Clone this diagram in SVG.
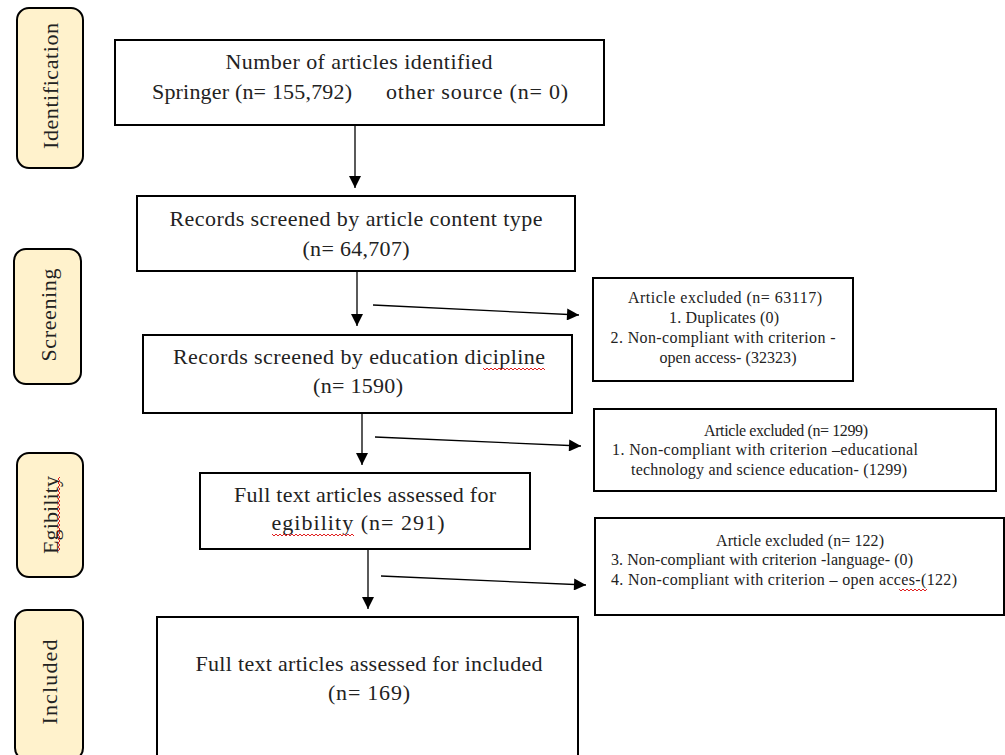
<svg xmlns="http://www.w3.org/2000/svg" width="1005" height="755" viewBox="0 0 1005 755">
<defs>
<style>
.side{fill:#FFF2CC;stroke:#000;stroke-width:2}
.box{fill:#fff;stroke:#000;stroke-width:2}
.t{font-family:"Liberation Serif","DejaVu Serif",serif;font-size:22px;fill:#222;text-anchor:middle}
.s{font-family:"Liberation Serif","DejaVu Serif",serif;font-size:16px;fill:#222}
.c{text-anchor:middle}
.lbl{font-family:"Liberation Serif","DejaVu Serif",serif;font-size:22px;fill:#222;text-anchor:middle;dominant-baseline:central}
.ln{stroke:#000;stroke-width:1.3;fill:none}
.sq{stroke:#e02020;stroke-width:1;fill:none}
</style>
<marker id="ah" viewBox="0 0 10 10" refX="10" refY="5" markerWidth="13" markerHeight="12" markerUnits="userSpaceOnUse" orient="auto">
<path d="M0,0 L10,5 L0,10 z" fill="#000"/>
</marker>
</defs>
<rect width="1005" height="755" fill="#fff"/>

<g id="side-identification">
<rect class="side" x="17" y="8" width="66" height="160" rx="12"/>
<text class="lbl" transform="translate(50,86) rotate(-90)" textLength="126" lengthAdjust="spacing">Identification</text>
</g>
<g id="side-screening">
<rect class="side" x="14" y="249" width="67" height="135" rx="12"/>
<text class="lbl" transform="translate(48,315) rotate(-90)" textLength="93" lengthAdjust="spacing">Screening</text>
</g>
<g id="side-egibility">
<rect class="side" x="17" y="453" width="66" height="124" rx="12"/>
<text class="lbl" transform="translate(50,515) rotate(-90)" textLength="78" lengthAdjust="spacing">Egibility</text>
<path class="sq" d="M60,477 l-2,2 l2,2 l-2,2 l2,2 l-2,2 l2,2 l-2,2 l2,2 l-2,2 l2,2 l-2,2 l2,2 l-2,2 l2,2 l-2,2 l2,2 l-2,2 l2,2 l-2,2 l2,2 l-2,2 l2,2 l-2,2 l2,2 l-2,2 l2,2 l-2,2 l2,2 l-2,2 l2,2 l-2,2 l2,2 l-2,2 l2,2 l-2,2 l2,2 l-2,2"/>
</g>
<g id="side-included">
<rect class="side" x="15" y="610" width="68" height="150" rx="12"/>
<text class="lbl" transform="translate(49,682) rotate(-90)" textLength="85" lengthAdjust="spacing">Included</text>
</g>

<g id="n1">
<rect class="box" x="115" y="40" width="489" height="85"/>
<text class="t" x="359" y="69" textLength="267" lengthAdjust="spacing">Number of articles identified</text>
<text class="t" x="252" y="99" textLength="200" lengthAdjust="spacing">Springer (n= 155,792)</text>
<text class="t" x="477" y="99" textLength="182" lengthAdjust="spacing">other source (n= 0)</text>
</g>
<g id="n2">
<rect class="box" x="137" y="196" width="438" height="75"/>
<text class="t" x="356" y="226" textLength="373" lengthAdjust="spacing">Records screened by article content type</text>
<text class="t" x="356" y="256" textLength="107" lengthAdjust="spacing">(n= 64,707)</text>
</g>
<g id="n3">
<rect class="box" x="143" y="335" width="429" height="78"/>
<text class="t" x="359" y="364" textLength="372" lengthAdjust="spacing">Records screened by education dicipline</text>
<text class="t" x="358" y="393" textLength="90" lengthAdjust="spacing">(n= 1590)</text>
<path class="sq" d="M483,368 l2,2 l2,-2 l2,2 l2,-2 l2,2 l2,-2 l2,2 l2,-2 l2,2 l2,-2 l2,2 l2,-2 l2,2 l2,-2 l2,2 l2,-2 l2,2 l2,-2 l2,2 l2,-2 l2,2 l2,-2 l2,2 l2,-2 l2,2 l2,-2 l2,2 l2,-2 l2,2 l2,-2 l2,2"/>
</g>
<g id="n4">
<rect class="box" x="200" y="473" width="330" height="76"/>
<text class="t" x="365" y="502" textLength="262" lengthAdjust="spacing">Full text articles assessed for</text>
<text class="t" x="358" y="530" textLength="173" lengthAdjust="spacing">egibility (n= 291)</text>
<path class="sq" d="M272,534 l2,2 l2,-2 l2,2 l2,-2 l2,2 l2,-2 l2,2 l2,-2 l2,2 l2,-2 l2,2 l2,-2 l2,2 l2,-2 l2,2 l2,-2 l2,2 l2,-2 l2,2 l2,-2 l2,2 l2,-2 l2,2 l2,-2 l2,2 l2,-2 l2,2 l2,-2 l2,2 l2,-2 l2,2 l2,-2 l2,2 l2,-2 l2,2 l2,-2 l2,2 l2,-2 l2,2 l2,-2 l2,2"/>
</g>
<g id="n5">
<rect class="box" x="157" y="617" width="421" height="145"/>
<text class="t" x="369" y="671" textLength="347" lengthAdjust="spacing">Full text articles assessed for included</text>
<text class="t" x="369" y="700" textLength="82" lengthAdjust="spacing">(n= 169)</text>
</g>

<g id="ex1">
<rect class="box" x="593" y="278" width="260" height="103"/>
<text class="s c" x="725" y="303" textLength="194" lengthAdjust="spacing">Article excluded (n= 63117)</text>
<text class="s c" x="724" y="323" textLength="110" lengthAdjust="spacing">1. Duplicates (0)</text>
<text class="s c" x="723" y="343" textLength="225" lengthAdjust="spacing">2. Non-compliant with criterion -</text>
<text class="s c" x="728" y="363" textLength="137" lengthAdjust="spacing">open access- (32323)</text>
</g>
<g id="ex2">
<rect class="box" x="594" y="409" width="402" height="82"/>
<text class="s c" x="786" y="436" textLength="164" lengthAdjust="spacing">Article excluded (n= 1299)</text>
<text class="s" x="612" y="455" textLength="306" lengthAdjust="spacing">1.  Non-compliant with criterion –educational</text>
<text class="s" x="631" y="475" textLength="276" lengthAdjust="spacing">technology and science education- (1299)</text>
</g>
<g id="ex3">
<rect class="box" x="595" y="518" width="409" height="97"/>
<text class="s c" x="800" y="546" textLength="168" lengthAdjust="spacing">Article excluded (n= 122)</text>
<text class="s" x="611" y="565" textLength="302" lengthAdjust="spacing">3. Non-compliant with criterion -language- (0)</text>
<text class="s" x="611" y="585" textLength="346" lengthAdjust="spacing">4. Non-compliant with criterion – open acces-(122)</text>
<path class="sq" d="M899,589 l2,2 l2,-2 l2,2 l2,-2 l2,2 l2,-2 l2,2 l2,-2 l2,2 l2,-2 l2,2 l2,-2 l2,2 l2,-2"/>
</g>

<g id="connectors">
<line class="ln" x1="355" y1="126" x2="355" y2="188" marker-end="url(#ah)"/>
<line class="ln" x1="357" y1="272" x2="357" y2="326" marker-end="url(#ah)"/>
<line class="ln" x1="362" y1="414" x2="362" y2="465" marker-end="url(#ah)"/>
<line class="ln" x1="368" y1="550" x2="368" y2="609" marker-end="url(#ah)"/>
<line class="ln" x1="373" y1="305" x2="579" y2="315" marker-end="url(#ah)"/>
<line class="ln" x1="375" y1="437" x2="581" y2="446" marker-end="url(#ah)"/>
<line class="ln" x1="381" y1="576" x2="586" y2="585" marker-end="url(#ah)"/>
</g>
</svg>
